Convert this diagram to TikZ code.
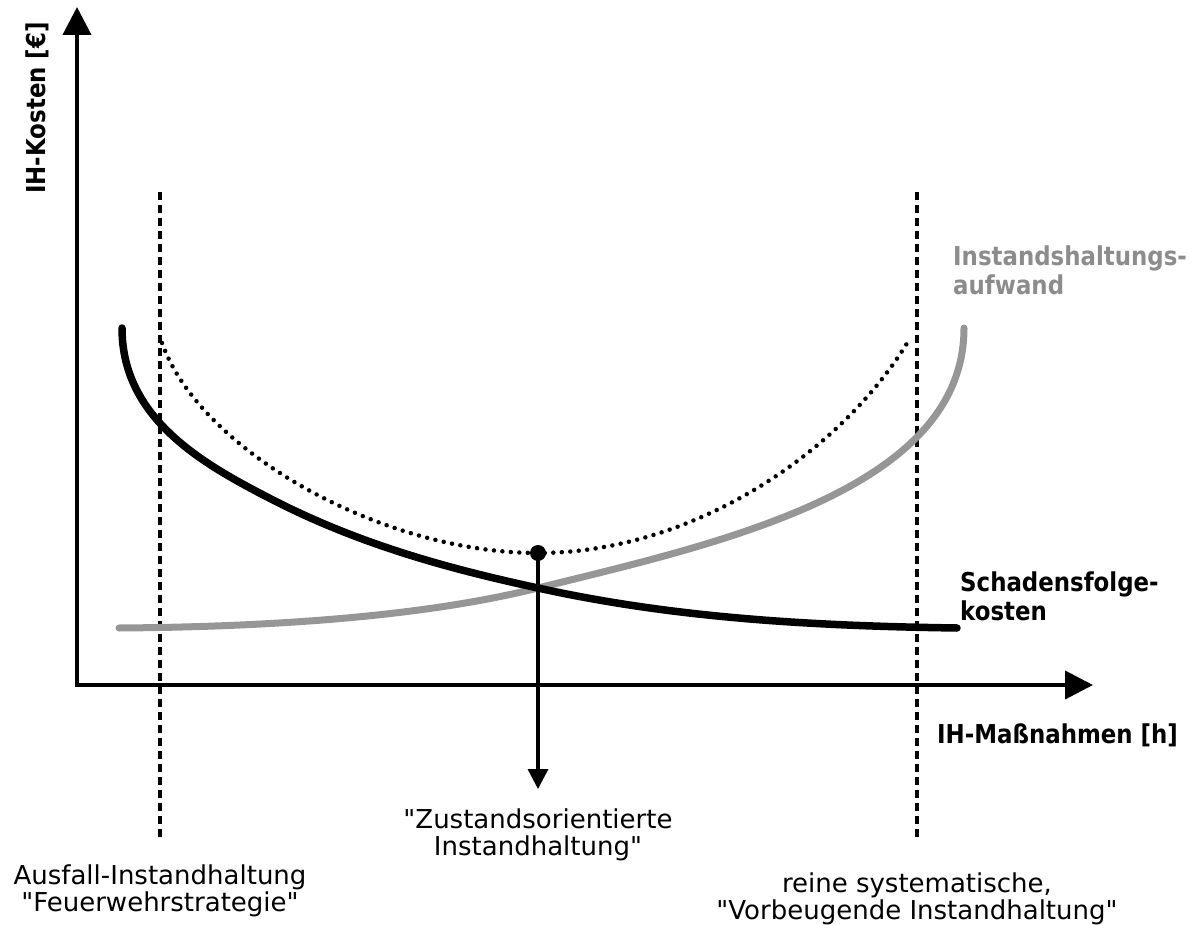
\documentclass[tikz,border=0pt]{standalone}
\usepackage{fontspec}
\setmainfont{DejaVu Sans}
\newfontfamily\boldlab{DejaVu Sans}[FakeStretch=0.88]
\usetikzlibrary{arrows.meta}
\definecolor{curvegray}{RGB}{150,150,150}
\definecolor{textgray}{RGB}{140,140,140}
\tikzset{
  axisline/.style={line width=4pt, {Triangle[length=28pt,width=28pt]}-{Triangle[length=28pt,width=28pt]}},
  guideline/.style={line width=3.5pt, dash pattern=on 8pt off 5pt},
  blackcurve/.style={line width=7.5pt, line cap=round, black},
  graycurve/.style={line width=7pt, line cap=round, curvegray},
  totalcurve/.style={line width=4.5pt, line cap=round, dash pattern=on 0pt off 8.5pt},
  boldlabel/.style={font={\boldlab\bfseries\fontsize{26}{29}\selectfont}, inner sep=0pt, align=left},
  reglabel/.style={font={\fontsize{26}{27}\selectfont}, inner sep=0pt, align=center},
  optarrow/.style={line width=3.5pt, -{Triangle[length=20pt,width=20pt]}}
}
\begin{document}
\begin{tikzpicture}[x=1pt,y=-1pt]
\useasboundingbox (0,0) rectangle (1202,925);
% axes
\coordinate (ytip) at (77,7);
\coordinate (O) at (77,685);
\coordinate (xtip) at (1093,685);
\draw[axisline] (ytip) -- (O) -- (xtip);
% guide lines
\coordinate (gl1t) at (160,192);
\coordinate (gl1b) at (160,838);
\coordinate (gl2t) at (917,192);
\coordinate (gl2b) at (917,838);
\draw[guideline] (gl1t) -- (gl1b);
\draw[guideline] (gl2t) -- (gl2b);
% curves
\coordinate (tA) at (162,343);
\coordinate (tM) at (538,553);
\coordinate (tB) at (909,340);
\draw[totalcurve] (tA) .. controls (200,450) and (380,553) .. (tM)
                       .. controls (690,553) and (840,455) .. (tB);
\coordinate (gA) at (119,628);
\coordinate (X) at (538,588);
\coordinate (gB) at (964,328);
\draw[graycurve] (gA) .. controls (260,627) and (418,618) .. (X)
                      .. controls (720,543) and (964,490) .. (gB);
\coordinate (bA) at (122,328);
\coordinate (bM) at (273,500);
\coordinate (bB) at (957,628);
\draw[blackcurve] (bA) .. controls (122,420) and (205,465) .. (bM)
                       .. controls (361,545) and (450,569) .. (X)
                       .. controls (678,619) and (820,626) .. (bB);
% optimum
\node[circle, fill=black, inner sep=0pt, minimum size=16pt] (opt) at (tM) {};
\coordinate (optend) at (538,789);
\draw[optarrow] (opt.center) -- (optend);
% labels
\node[boldlabel, rotate=90] (ylab) at (37,108) {IH-Kosten [€]};
\node[boldlabel, anchor=west] (xlab) at (937,735) {IH-Maßnahmen [h]};
\node[boldlabel, anchor=west, text=textgray] (glab) at (953,270) {Instandshaltungs-\\aufwand};
\node[boldlabel, anchor=west] (blab) at (960,596) {Schadensfolge-\\kosten};
\node[reglabel] (zlab) at (538,835) {\textquotedbl Zustandsorientierte\\Instandhaltung\textquotedbl};
\node[reglabel] (alab) at (160,891) {Ausfall-Instandhaltung\\\textquotedbl Feuerwehrstrategie\textquotedbl};
\node[reglabel] (vlab) at (917,899) {reine systematische,\\\textquotedbl Vorbeugende Instandhaltung\textquotedbl};
\end{tikzpicture}
\end{document}
